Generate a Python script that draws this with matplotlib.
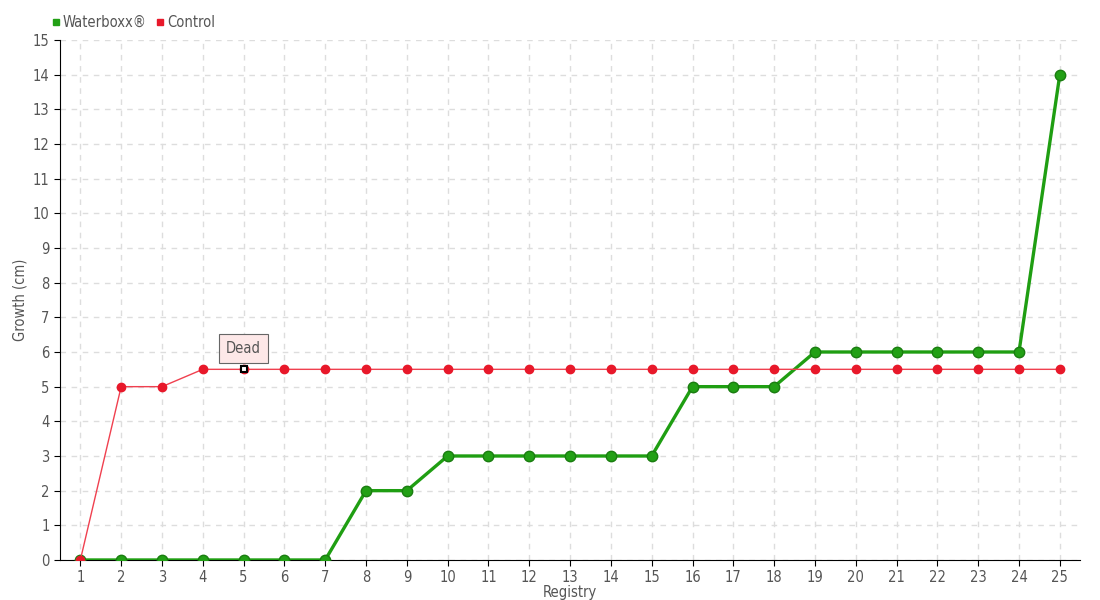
import matplotlib.pyplot as plt
from matplotlib.lines import Line2D

registry = list(range(1, 26))
waterboxx = [0, 0, 0, 0, 0, 0, 0, 2, 2, 3, 3, 3, 3, 3, 3, 5, 5, 5, 6, 6, 6, 6, 6, 6, 14]
control = [0, 5, 5, 5.5, 5.5, 5.5, 5.5, 5.5, 5.5, 5.5, 5.5, 5.5, 5.5, 5.5, 5.5, 5.5,
           5.5, 5.5, 5.5, 5.5, 5.5, 5.5, 5.5, 5.5, 5.5]
dead_index = 4  # registry 5

plt.rcParams['font.family'] = ['DejaVu Sans']
plt.rcParams['font.stretch'] = 'condensed'
txt = '#555555'
fs = 10.5

fig = plt.figure(figsize=(11, 6), dpi=100)
ax = fig.add_axes([0.0545, 0.0667, 0.9275, 0.8666])

# linhas
ax.plot(registry, waterboxx, color='#1f9e12', lw=2.4, marker='o', ms=7.5,
        markerfacecolor='#22a015', markeredgecolor='#1a7d10', zorder=3)
ax.plot(registry, control, color='#f0404f', lw=1, marker='o', ms=6,
        markerfacecolor='#e8182a', markeredgecolor='#e8182a', zorder=4)

# ponto morto
ax.plot(registry[dead_index], control[dead_index], marker='s', ms=5,
        markerfacecolor='white', markeredgecolor='black', mew=1.5, zorder=5)
ax.annotate('Dead', xy=(registry[dead_index], control[dead_index]), xytext=(0, 15),
            textcoords='offset points', ha='center', va='center', color=txt, fontsize=fs,
            bbox=dict(boxstyle='square,pad=0.5', fc='#fde8e8', ec='#666666', lw=0.8),
            arrowprops=dict(arrowstyle='-', color='#666666', lw=0.8, shrinkA=0, shrinkB=4))

ax.set_xlim(0.5, 25.5)
ax.set_ylim(0, 15)
ax.set_xticks(registry)
ax.set_yticks(range(0, 16))
ax.grid(True, color='#dddddd', linestyle=(0, (4, 4)), lw=1)
ax.set_axisbelow(True)
for s in ['top', 'right']:
    ax.spines[s].set_visible(False)
ax.tick_params(labelcolor=txt, labelsize=fs, length=4, color='black')

ax.set_xlabel('Registry', color=txt, fontsize=fs, labelpad=0)
ax.set_ylabel('Growth (cm)', color=txt, fontsize=fs, labelpad=4)

# legenda
handles = [Line2D([], [], ls='', marker='s', ms=5, color='#22a015'),
           Line2D([], [], ls='', marker='s', ms=5, color='#e8182a')]
fig.legend(handles, ['Waterboxx®', 'Control'], loc='center left', bbox_to_anchor=(0.040, 0.963),
           ncol=2, frameon=False, handlelength=0.6, handletextpad=0.2, columnspacing=0.6,
           fontsize=fs, labelcolor=txt, borderpad=0)

fig.savefig('out.png', dpi=100)
